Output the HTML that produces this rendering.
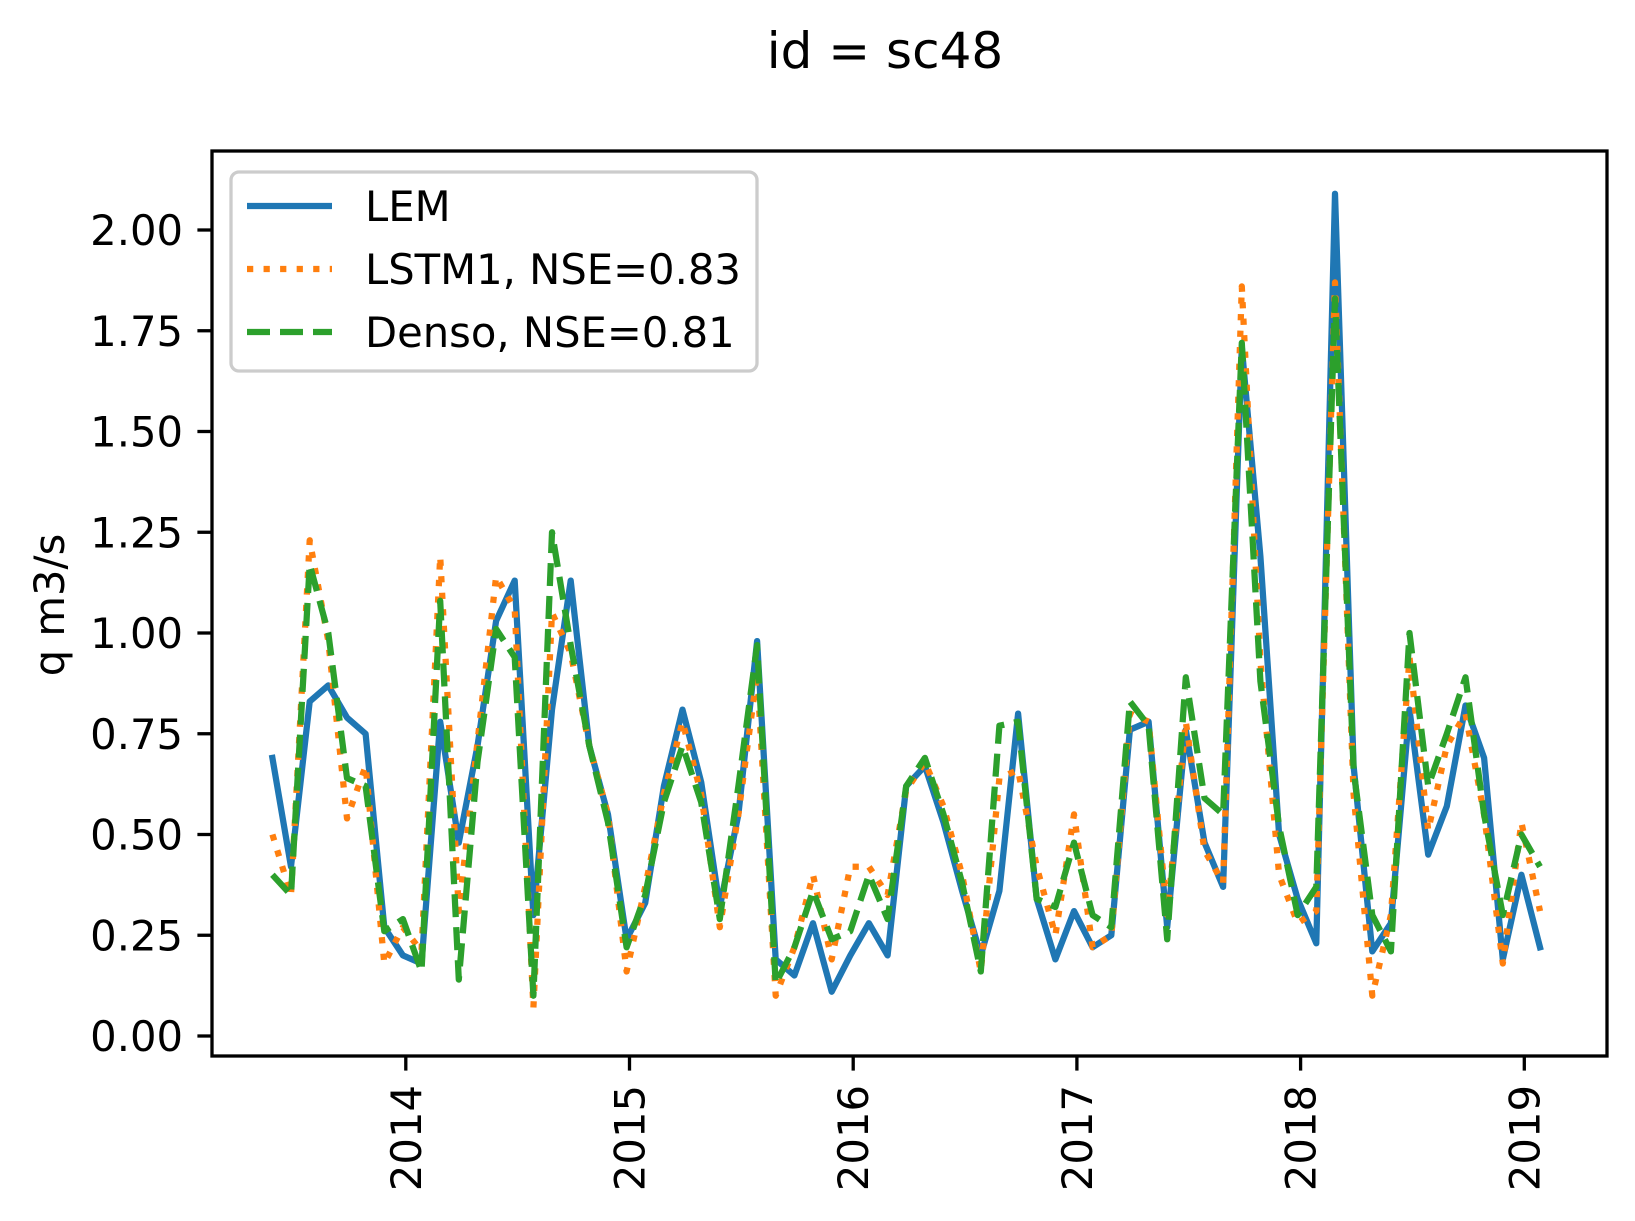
<!DOCTYPE html>
<html><head><meta charset="utf-8"><style>
html,body{margin:0;padding:0;background:#fff;}
svg{display:block;font-family:"DejaVu Sans","Liberation Sans",sans-serif;}
</style></head><body>
<svg id="chart" width="1635" height="1221" viewBox="0 0 1635 1221" xmlns="http://www.w3.org/2000/svg">
<rect width="1635" height="1221" fill="#fff"/>
<text x="885" y="68" font-size="50" text-anchor="middle">id = sc48</text>
<text x="0" y="0" font-size="41.7" text-anchor="middle" transform="translate(64,605) rotate(-90)">q m3/s</text>
<g id="plot"></g>
</svg>
<script>
const startYear = 2013, startMonth = 5; // June 2013 (0-based month)
const yTicks = [0, 0.25, 0.5, 0.75, 1.0, 1.25, 1.5, 1.75, 2.0];
const yTickLabels = ["0.00","0.25","0.50","0.75","1.00","1.25","1.50","1.75","2.00"];
const xTicks = [2014, 2015, 2016, 2017, 2018, 2019];
const lem = [0.69,0.42,0.83,0.87,0.79,0.75,0.27,0.20,0.18,0.78,0.48,0.72,1.03,1.13,0.30,0.81,1.13,0.72,0.55,0.24,0.33,0.62,0.81,0.63,0.32,0.55,0.98,0.19,0.15,0.28,0.11,0.20,0.28,0.20,0.62,0.67,0.53,0.36,0.20,0.36,0.80,0.34,0.19,0.31,0.22,0.25,0.76,0.78,0.27,0.76,0.48,0.37,1.71,1.19,0.50,0.34,0.23,2.09,0.67,0.21,0.28,0.81,0.45,0.57,0.82,0.69,0.19,0.40,0.22];
const lstm1 = [0.50,0.35,1.23,0.98,0.54,0.67,0.18,0.27,0.21,1.19,0.31,0.73,1.14,1.06,0.07,1.05,0.95,0.72,0.55,0.16,0.37,0.60,0.78,0.60,0.27,0.55,0.90,0.10,0.22,0.40,0.19,0.42,0.42,0.35,0.61,0.68,0.57,0.40,0.16,0.64,0.66,0.42,0.25,0.55,0.22,0.25,0.80,0.78,0.30,0.78,0.46,0.38,1.86,0.93,0.40,0.28,0.31,1.87,0.60,0.10,0.30,0.94,0.51,0.72,0.80,0.55,0.18,0.53,0.31];
const denso = [0.40,0.35,1.17,1.00,0.64,0.62,0.26,0.29,0.16,1.08,0.14,0.68,1.01,0.94,0.10,1.25,0.97,0.72,0.53,0.22,0.35,0.58,0.72,0.58,0.29,0.62,0.97,0.13,0.22,0.36,0.24,0.26,0.40,0.29,0.62,0.69,0.55,0.38,0.16,0.77,0.78,0.34,0.32,0.48,0.30,0.27,0.83,0.77,0.24,0.89,0.59,0.55,1.72,0.88,0.52,0.30,0.37,1.83,0.66,0.30,0.21,1.00,0.62,0.75,0.89,0.55,0.30,0.50,0.42];

const NS = "http://www.w3.org/2000/svg";
const L = 212, R = 1607, T = 151, B = 1056;
function xScale(t){ return 405.8 + (t - 2014) * 223.7; }
function yScale(v){ return 1036 - v * 403; }
function tOf(i){ return startYear + (startMonth + i) / 12 - 0.013; }
const g = document.getElementById('plot');
function mk(tag, attrs, parent){ const e = document.createElementNS(NS, tag); for (const k in attrs) e.setAttribute(k, attrs[k]); (parent||g).appendChild(e); return e; }

const series = [
  {data: lem, color: "#1f77b4", dash: null, name: "lem-line"},
  {data: lstm1, color: "#ff7f0e", dash: "6.25,10.3", name: "lstm1-line"},
  {data: denso, color: "#2ca02c", dash: "23,10", name: "denso-line"}
];
const clip = mk('clipPath', {id: 'pc'});
mk('rect', {x: L, y: T, width: R - L, height: B - T}, clip);
series.forEach(s => {
  const pts = s.data.map((v, i) => xScale(tOf(i)).toFixed(1) + "," + yScale(v).toFixed(1)).join(" ");
  const p = mk('polyline', {points: pts, fill: "none", stroke: s.color, "stroke-width": 6.25, "stroke-linejoin": "round", "clip-path": "url(#pc)"});
  if (s.dash) { p.setAttribute('stroke-dasharray', s.dash); p.setAttribute('stroke-linecap', 'butt'); } else p.setAttribute('stroke-linecap', 'square');
  
  
});

const frame = mk('rect', {x: L, y: T, width: R - L, height: B - T, fill: "none", stroke: "#000", "stroke-width": 3.3});



yTicks.forEach((v, k) => {
  const y = yScale(v);
  const tk = mk('line', {x1: L - 14.6, x2: L, y1: y, y2: y, stroke: "#000", "stroke-width": 3.3});
  
  
  const tx = mk('text', {x: L - 29, y: y + 15, "font-size": 41.7, "text-anchor": "end"});
  tx.textContent = yTickLabels[k];
  
  
});
xTicks.forEach(yr => {
  const x = xScale(yr);
  const tk = mk('line', {x1: x, x2: x, y1: B, y2: B + 14.6, stroke: "#000", "stroke-width": 3.3});
  
  
  const tx = mk('text', {x: 0, y: 0, "font-size": 41.7, "text-anchor": "end", transform: "translate(" + (x + 15) + "," + (B + 29) + ") rotate(-90)"});
  tx.textContent = String(yr);
  
  
});

const lg = mk('g', {});


mk('rect', {x: 231, y: 172, width: 526, height: 199, rx: 8, fill: "#fff", "fill-opacity": 0.8, stroke: "#cccccc", "stroke-width": 3.3}, lg);
const legendLabels = ["LEM", "LSTM1, NSE=0.83", "Denso, NSE=0.81"];
const legendY = [206, 269, 332];
series.forEach((s, k) => {
  const ln = mk('line', {x1: 247, x2: 332, y1: legendY[k], y2: legendY[k], stroke: s.color, "stroke-width": 6.25}, lg);
  if (s.dash) ln.setAttribute('stroke-dasharray', s.dash);
  
  
  const tx = mk('text', {x: 365, y: legendY[k] + 15, "font-size": 41.7}, lg);
  tx.textContent = legendLabels[k];
  
  
});
</script>
</body></html>
